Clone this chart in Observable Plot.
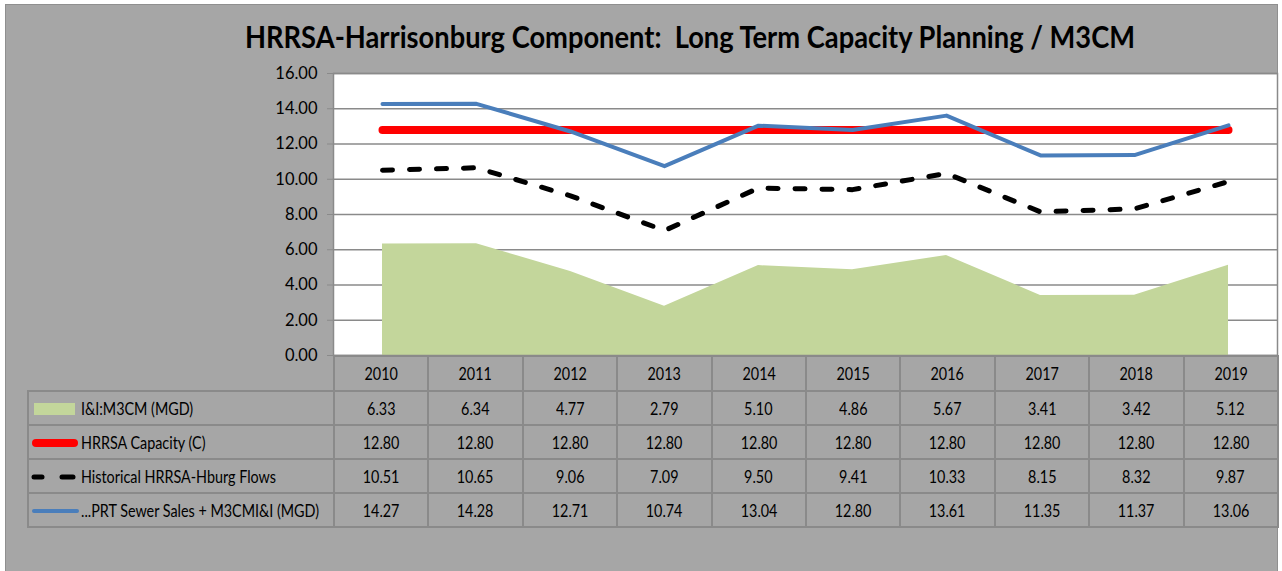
<!DOCTYPE html>
<html>
<head>
<meta charset="utf-8">
<script src="https://cdn.jsdelivr.net/npm/d3@7"></script>
<script src="https://cdn.jsdelivr.net/npm/@observablehq/plot@0.6"></script>
<style>
  html, body { margin: 0; padding: 0; background: #ffffff; }
  body { width: 1282px; height: 571px; position: relative; overflow: hidden;
         font-family: Lato, "Open Sans", sans-serif; }
  #frame { position: absolute; left: 5px; top: 4px; width: 1273px; height: 567px;
           background: #a6a6a6; border-left: 1px solid #8f8f8f; border-top: 1px solid #8f8f8f; border-right: 1px solid #8f8f8f; box-sizing: border-box; }
  #title { position: absolute; left: 245px; top: 14px; white-space: pre;
           font-weight: bold; font-size: 31px; line-height: 44px; color: #000; transform-origin: 0 50%; }
  #chart { position: absolute; left: 0; top: 62px; }
  #tbl { position: absolute; left: 27px; top: 355px; width: 1250px; border-collapse: collapse; table-layout: fixed;
         font-size: 16.5px; color: #000; }
  #tbl td { border: 2px solid #8a8a8a; text-align: center; padding: 0; white-space: nowrap; overflow: hidden; }
  #tbl tr.hdr td { height: 33px; }
  #tbl tr.row td { height: 32px; }
  #tbl td.blank { border: none; }
  #tbl td.leg { text-align: left; }
  #tbl td.leg svg { vertical-align: middle; }
  #tbl span.s { display: inline-block; transform: scaleX(0.87); transform-origin: 50% 50%; vertical-align: middle; }
  #tbl td.leg span.s { transform-origin: 0 50%; }
</style>
</head>
<body>
<div id="frame"></div>
<div id="title"></div>
<div id="chart"></div>
<table id="tbl"></table>
<script>
// ---- data ----
const chartTitle = "HRRSA-Harrisonburg Component:  Long Term Capacity Planning / M3CM";
const years = [2010, 2011, 2012, 2013, 2014, 2015, 2016, 2017, 2018, 2019];
const iiM3CM = [6.33, 6.34, 4.77, 2.79, 5.10, 4.86, 5.67, 3.41, 3.42, 5.12];
const capacity = [12.80, 12.80, 12.80, 12.80, 12.80, 12.80, 12.80, 12.80, 12.80, 12.80];
const historical = [10.51, 10.65, 9.06, 7.09, 9.50, 9.41, 10.33, 8.15, 8.32, 9.87];
const prtSales = [14.27, 14.28, 12.71, 10.74, 13.04, 12.80, 13.61, 11.35, 11.37, 13.06];
const seriesNames = ["I&I:M3CM (MGD)", "HRRSA Capacity (C)", "Historical HRRSA-Hburg Flows", "...PRT Sewer Sales + M3CMI&I (MGD)"];
const yTicks = [0, 2, 4, 6, 8, 10, 12, 14, 16];

// ---- styles ----
const colArea = "#c3d69b", colCap = "#ff0000", colHist = "#000000", colPrt = "#4a7ebb", colGrid = "#8a8a8a";

document.getElementById("title").textContent = chartTitle;

const rows = years.map((y, i) => ({year: String(y), ii: iiM3CM[i], cap: capacity[i], hist: historical[i], prt: prtSales[i]}));
const fmt = d3.format(".2f");

const chart = Plot.plot({
  width: 1282,
  height: 300,
  marginTop: 11,
  marginBottom: 7,
  marginLeft: 333,
  marginRight: 5,
  style: {background: "transparent", fontFamily: "Lato, 'Open Sans', sans-serif", fontSize: "16.5px", color: "#000", overflow: "visible"},
  x: {type: "point", domain: years.map(String), padding: 0.5, axis: null},
  y: {domain: [0, 16], axis: null},
  marks: [
    Plot.frame({fill: "white", stroke: "none"}),
    Plot.gridY(yTicks, {stroke: colGrid, strokeOpacity: 1, strokeWidth: 1.5}),
    Plot.areaY(rows, {x: "year", y: "ii", fill: colArea}),
    Plot.lineY(rows, {x: "year", y: "cap", stroke: colCap, strokeWidth: 8, strokeLinecap: "round"}),
    Plot.lineY(rows, {x: "year", y: "hist", stroke: colHist, strokeWidth: 5, strokeDasharray: "10,17", strokeLinecap: "round"}),
    Plot.lineY(rows, {x: "year", y: "prt", stroke: colPrt, strokeWidth: 4}),
    Plot.frame({stroke: colGrid, strokeWidth: 1.5, fill: "none"}),
    Plot.axisY(yTicks, {tickSize: 6, tickPadding: 10, tickFormat: fmt, stroke: colGrid, fill: "#000", label: null, fontSize: 16.5})
  ]
});
// narrow the axis labels a little, like the condensed original face
d3.select(chart).selectAll("[aria-label='y-axis tick label'] text").each(function() {
  const el = d3.select(this);
  const tr = el.attr("transform") || "";
  el.attr("transform", tr + " translate(0,0)").style("font-stretch", "condensed");
});
document.getElementById("chart").appendChild(chart);

// ---- data table (legend + values) ----
const tbl = document.getElementById("tbl");
const colW = 944 / years.length;
const cg = document.createElement("colgroup");
let c0 = document.createElement("col"); c0.style.width = "306px"; cg.appendChild(c0);
years.forEach(() => { const c = document.createElement("col"); c.style.width = colW + "px"; cg.appendChild(c); });
tbl.appendChild(cg);

function cellText(td, s) {
  const sp = document.createElement("span"); sp.className = "s"; sp.textContent = s; td.appendChild(sp);
}

const hdr = document.createElement("tr"); hdr.className = "hdr";
const blank = document.createElement("td"); blank.className = "blank"; hdr.appendChild(blank);
years.forEach(y => { const td = document.createElement("td"); cellText(td, String(y)); hdr.appendChild(td); });
tbl.appendChild(hdr);

const swatches = [
  `<svg width="52" height="18"><rect x="5" y="3" width="41" height="12" fill="${colArea}"/></svg>`,
  `<svg width="52" height="18"><line x1="7" y1="9" x2="45" y2="9" stroke="${colCap}" stroke-width="8" stroke-linecap="round"/></svg>`,
  `<svg width="52" height="18"><line x1="5" y1="9" x2="13" y2="9" stroke="${colHist}" stroke-width="5" stroke-linecap="round"/><line x1="33" y1="9" x2="44" y2="9" stroke="${colHist}" stroke-width="5" stroke-linecap="round"/></svg>`,
  `<svg width="52" height="18"><line x1="5" y1="9" x2="48" y2="9" stroke="${colPrt}" stroke-width="4" stroke-linecap="round"/></svg>`
];
const seriesVals = [iiM3CM, capacity, historical, prtSales];
seriesNames.forEach((name, k) => {
  const tr = document.createElement("tr"); tr.className = "row";
  const leg = document.createElement("td"); leg.className = "leg";
  leg.innerHTML = swatches[k];
  cellText(leg, name);
  tr.appendChild(leg);
  seriesVals[k].forEach(v => { const td = document.createElement("td"); cellText(td, fmt(v)); tr.appendChild(td); });
  tbl.appendChild(tr);
});

// fit title to its measured span
const t = document.getElementById("title");
const w = t.getBoundingClientRect().width;
t.style.transform = `scaleX(${890 / w})`;
</script>
</body>
</html>
